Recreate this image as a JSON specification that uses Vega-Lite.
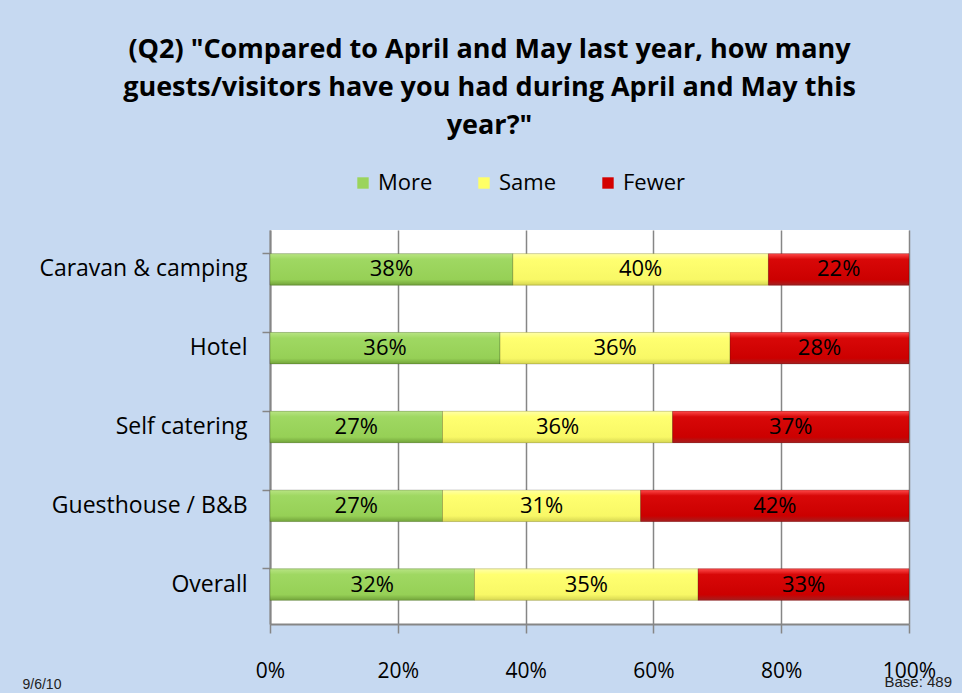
{
  "$schema": "https://vega.github.io/schema/vega-lite/v6.json",
  "width": 639,
  "height": 394,
  "autosize": {"type": "none"},
  "padding": {"left": 270, "top": 230, "right": 53, "bottom": 69},
  "background": "#c6d9f1",
  "config": {
    "view": {"fill": "white", "stroke": null},
    "font": "Open Sans"
  },
  "title": {
    "text": ["(Q2) \"Compared to April and May last year, how many", "guests/visitors have you had during April and May this", "year?\""],
    "font": "Open Sans",
    "fontSize": 27,
    "fontWeight": "bold",
    "color": "black",
    "anchor": "middle",
    "frame": "group",
    "dx": -100,
    "lineHeight": 38,
    "offset": 32
  },
  "data": {
    "values": [
      {"type": "Caravan & camping", "resp": "More", "k": 1, "value": 0.38},
      {"type": "Caravan & camping", "resp": "Same", "k": 2, "value": 0.40},
      {"type": "Caravan & camping", "resp": "Fewer", "k": 3, "value": 0.22},
      {"type": "Hotel", "resp": "More", "k": 1, "value": 0.36},
      {"type": "Hotel", "resp": "Same", "k": 2, "value": 0.36},
      {"type": "Hotel", "resp": "Fewer", "k": 3, "value": 0.28},
      {"type": "Self catering", "resp": "More", "k": 1, "value": 0.27},
      {"type": "Self catering", "resp": "Same", "k": 2, "value": 0.36},
      {"type": "Self catering", "resp": "Fewer", "k": 3, "value": 0.37},
      {"type": "Guesthouse / B&B", "resp": "More", "k": 1, "value": 0.27},
      {"type": "Guesthouse / B&B", "resp": "Same", "k": 2, "value": 0.31},
      {"type": "Guesthouse / B&B", "resp": "Fewer", "k": 3, "value": 0.42},
      {"type": "Overall", "resp": "More", "k": 1, "value": 0.32},
      {"type": "Overall", "resp": "Same", "k": 2, "value": 0.35},
      {"type": "Overall", "resp": "Fewer", "k": 3, "value": 0.33}
    ]
  },
  "encoding": {
    "y": {
      "field": "type",
      "type": "nominal",
      "sort": ["Caravan & camping", "Hotel", "Self catering", "Guesthouse / B&B", "Overall"],
      "scale": {"paddingInner": 0.6, "paddingOuter": 0.3},
      "axis": {
        "title": "9/6/10",
        "titleAngle": 0,
        "titleX": -248,
        "titleY": 458,
        "titleAlign": "left",
        "titleBaseline": "alphabetic",
        "titleFont": "Liberation Sans",
        "titleFontSize": 14,
        "titleFontWeight": "normal",
        "titleColor": "#222",
        "labelFont": "Open Sans",
        "labelFontSize": 23,
        "labelColor": "black",
        "labelLimit": 400,
        "labelPadding": 15,
        "tickSize": 8,
        "tickColor": "#868686",
        "tickWidth": 1.5,
        "bandPosition": 0,
        "domainColor": "#868686",
        "domainWidth": 2
      }
    }
  },
  "layer": [
    {
      "mark": {"type": "bar"},
      "encoding": {
        "x": {
          "field": "value",
          "type": "quantitative",
          "stack": "zero",
          "scale": {"domain": [0, 1], "nice": false},
          "axis": {
            "values": [0, 0.2, 0.4, 0.6, 0.8, 1],
            "format": ".0%",
            "grid": true,
            "gridColor": "#868686",
            "gridWidth": 1.5,
            "tickSize": 9,
            "tickColor": "#868686",
            "tickWidth": 1.5,
            "domainColor": "#868686",
            "domainWidth": 2,
            "labelFont": "Open Sans",
            "labelFontSize": 21,
            "labelColor": "black",
            "labelPadding": 27,
            "labelFlush": false,
            "title": "Base: 489",
            "titleX": 614,
            "titleY": 62,
            "titleAlign": "left",
            "titleBaseline": "alphabetic",
            "titleFont": "Liberation Sans",
            "titleFontSize": 15,
            "titleFontWeight": "normal",
            "titleColor": "#222"
          }
        },
        "color": {
          "field": "resp",
          "type": "nominal",
          "scale": {
            "domain": ["More", "Same", "Fewer"],
            "range": ["#9bd45c", "#ffff66", "#d40000"]
          },
          "legend": {
            "orient": "none",
            "legendX": 82,
            "legendY": -58,
            "direction": "horizontal",
            "title": null,
            "symbolType": "square",
            "symbolSize": 130,
            "symbolStrokeWidth": 0,
            "labelFont": "Open Sans",
            "labelFontSize": 22,
            "labelColor": "black",
            "labelOffset": 4,
            "columnPadding": 40
          }
        },
        "order": {"field": "k", "type": "quantitative"}
      }
    },
    {
      "mark": {"type": "bar", "stroke": "#00000030", "strokeWidth": 1},
      "encoding": {
        "x": {"field": "value", "type": "quantitative", "stack": "zero"},
        "fill": {
          "condition": [
            {"test": "datum.resp === 'More'", "value": {"gradient": "linear", "x1": 0, "y1": 0, "x2": 0, "y2": 1, "stops": [
                {"offset": 0, "color": "#b8e483"},
                {"offset": 0.18, "color": "#9fd862"},
                {"offset": 0.82, "color": "#96d056"},
                {"offset": 1, "color": "#72a33a"}]}},
            {"test": "datum.resp === 'Same'", "value": {"gradient": "linear", "x1": 0, "y1": 0, "x2": 0, "y2": 1, "stops": [
                {"offset": 0, "color": "#ffffa8"},
                {"offset": 0.18, "color": "#ffff70"},
                {"offset": 0.82, "color": "#f8f866"},
                {"offset": 1, "color": "#d6d652"}]}}
          ],
          "value": {"gradient": "linear", "x1": 0, "y1": 0, "x2": 0, "y2": 1, "stops": [
                {"offset": 0, "color": "#ff4a4a"},
                {"offset": 0.18, "color": "#d80808"},
                {"offset": 0.82, "color": "#cc0000"},
                {"offset": 1, "color": "#a32020"}]}
        },
        "order": {"field": "k", "type": "quantitative"}
      }
    },
    {
      "mark": {"type": "text", "font": "Open Sans", "fontSize": 22, "color": "black", "baseline": "middle"},
      "encoding": {
        "x": {"field": "value", "type": "quantitative", "stack": "zero", "bandPosition": 0.5},
        "text": {"field": "value", "type": "quantitative", "format": ".0%"},
        "detail": {"field": "resp"},
        "order": {"field": "k", "type": "quantitative"}
      }
    }
  ]
}
